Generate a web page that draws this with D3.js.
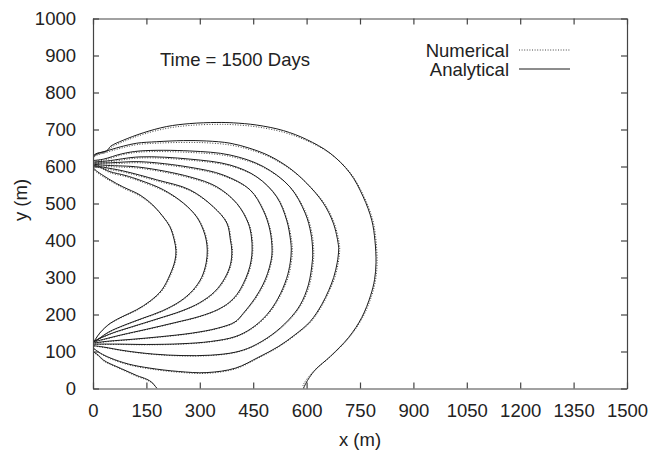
<!doctype html>

<html lang='en'>

<head>
  <meta charset='utf-8'>
  <title>Time = 1500 Days</title>

  <style>
    html, body {
      margin: 0;
      padding: 0;
      background: #fff;
    }

    text {
      font-family: 'Liberation Sans', Arial, Helvetica, sans-serif;
      fill: #222;
    }

    .frame path, .frame line {
      stroke: #444;
      stroke-width: 1.2;
    }

    path.analytical {
      fill: none;
      stroke: #1a1a1a;
      stroke-width: 1;
    }

    path.numerical {
      fill: none;
      stroke: #444;
      stroke-width: 1;
      stroke-dasharray: 1 1.6;
    }
  </style>
</head>

<body>
  <script src='https://d3js.org/d3.v7.min.js'></script>

  <script>
    const xTicks = [0, 150, 300, 450, 600, 750, 900, 1050, 1200, 1350, 1500]
    const yTicks = [0, 100, 200, 300, 400, 500, 600, 700, 800, 900, 1000]

    // analytical contours, upper source -> nose -> lower source (x m, y m)
    const analytical1 = [[0,598],[6,591],[48,564],[84,545],[132,523],[168,496],[197,464],[216,437],[228,402],[233,372],[230,345],[216,307],[193,266],[160,236],[123,213],[84,195],[48,176],[20,151],[6,132],[0,124]]
    const analytical2 = [[0,601],[20,598],[48,586],[90,576],[132,563],[198,537],[254,501],[291,464],[310,428],[318,401],[321,374],[318,340],[305,300],[280,265],[245,236],[195,210],[140,190],[90,172],[45,153],[15,134],[0,125]]
    const analytical3 = [[0,604],[30,598],[85,588],[179,564],[272,537],[338,491],[376,447],[386,401],[390,372],[386,335],[370,298],[342,262],[300,232],[250,210],[180,188],[110,167],[55,150],[20,136],[0,126]]
    const analytical4 = [[0,606],[40,603],[132,598],[272,572],[348,545],[404,500],[436,447],[445,410],[447,374],[444,345],[436,315],[422,283],[405,255],[382,232],[350,213],[300,195],[230,178],[150,160],[80,145],[30,133],[0,126]]
    const analytical5 = [[0,609],[50,610],[132,613],[272,598],[366,577],[441,537],[478,482],[497,428],[503,374],[500,345],[490,310],[477,280],[455,244],[422,203],[399,180],[350,163],[280,150],[190,140],[110,133],[45,128],[0,123]]
    const analytical6 = [[0,612],[40,615],[132,626],[272,620],[385,604],[460,572],[516,518],[544,455],[555,400],[557,374],[554,340],[544,298],[520,244],[488,199],[446,163],[399,140],[330,127],[250,121],[150,119],[70,120],[0,120]]
    const analytical7 = [[0,616],[30,620],[80,634],[132,642],[272,642],[385,631],[478,600],[553,545],[596,474],[612,420],[617,374],[616,343],[605,280],[582,226],[549,185],[502,145],[446,113],[399,98],[330,90],[250,89],[170,93],[90,102],[30,112],[0,116]]
    const analytical8 = [[0,622],[6,631],[48,645],[85,655],[123,663],[179,667],[254,670],[319,669],[385,663],[441,649],[497,628],[553,595],[600,555],[647,501],[675,447],[689,390],[690,374],[686,340],[676,300],[662,265],[642,226],[610,181],[567,145],[520,113],[464,84],[400,55],[320,43],[240,46],[160,55],[100,66],[50,82],[20,96],[0,110]]
    const analytical9 = [[0,630],[12,636],[38,642],[50,655],[85,671],[141,691],[207,708],[272,716],[348,719],[394,718],[460,712],[535,697],[600,673],[666,636],[722,582],[759,518],[783,455],[792,400],[795,340],[791,295],[780,252],[755,192],[718,138],[668,88],[626,52],[608,30],[598,14],[591,0]]
    const analytical9b = [[0,100],[15,90],[29,77],[48,67],[67,59],[95,47],[123,35],[151,25],[165,17],[174,7],[180,0]]

    // numerical contours
    const numerical1 = [[0,597],[6,588],[48,561],[84,542],[132,520],[169,493],[199,462],[218,436],[230,401],[235,372],[232,345],[218,306],[195,265],[161,235],[124,212],[85,194],[48,175],[20,150],[6,131],[0,123]]
    const numerical2 = [[0,600],[20,596],[48,583],[90,573],[132,560],[199,534],[256,499],[293,463],[312,428],[320,401],[323,374],[320,340],[307,299],[282,264],[246,235],[196,209],[140,189],[90,171],[45,152],[15,133],[0,124]]
    const numerical3 = [[0,603],[30,595],[85,585],[179,561],[273,534],[340,489],[378,446],[388,401],[392,372],[388,335],[372,297],[344,261],[301,231],[250,209],[180,187],[110,166],[55,149],[20,135],[0,125]]
    const numerical4 = [[0,605],[40,600],[132,595],[272,569],[349,542],[406,498],[438,446],[447,410],[449,374],[446,345],[438,314],[424,282],[407,254],[383,231],[350,212],[300,194],[230,177],[150,159],[80,144],[30,132],[0,125]]
    const numerical5 = [[0,608],[50,607],[132,610],[272,595],[367,574],[443,535],[480,481],[499,427],[505,374],[502,345],[492,309],[479,279],[457,243],[423,202],[400,179],[350,162],[280,149],[190,139],[110,132],[45,127],[0,122]]
    const numerical6 = [[0,611],[40,612],[132,623],[272,617],[386,601],[462,570],[518,517],[546,454],[558,400],[560,374],[557,340],[547,297],[522,243],[490,198],[447,162],[400,139],[330,126],[250,120],[150,118],[70,119],[0,119]]
    const numerical7 = [[0,615],[30,617],[80,631],[132,639],[272,638],[386,627],[480,597],[555,543],[599,473],[615,420],[620,374],[619,343],[608,279],[584,225],[551,184],[503,144],[447,112],[399,97],[330,89],[250,88],[170,92],[90,101],[30,111],[0,115]]
    const numerical8 = [[0,621],[6,628],[48,641],[85,651],[123,659],[179,663],[254,665],[319,664],[385,658],[442,645],[499,624],[555,592],[602,553],[650,500],[678,446],[692,390],[693,374],[689,340],[679,299],[664,264],[644,225],[612,180],[568,144],[521,112],[464,82],[400,53],[320,41],[240,44],[160,53],[100,64],[50,80],[20,95],[0,109]]
    const numerical9 = [[0,629],[12,633],[38,639],[50,651],[85,667],[141,687],[207,703],[272,711],[348,714],[394,713],[461,707],[537,692],[602,669],[669,633],[725,580],[762,517],[786,455],[795,400],[798,340],[794,295],[783,251],[757,191],[719,137],[668,87],[625,52],[605,31],[594,16],[590,8],[593,0]]
    const numerical9b = [[0,99],[15,88],[29,75],[48,65],[67,57],[95,45],[123,33],[151,23],[166,15],[175,6],[181,0]]

    const analytical = [analytical1, analytical2, analytical3, analytical4, analytical5, analytical6, analytical7, analytical8, analytical9, analytical9b]
    const numerical = [numerical1, numerical2, numerical3, numerical4, numerical5, numerical6, numerical7, numerical8, numerical9, numerical9b]

    const width = 649
    const height = 458
    const margin = { top: 18.5, right: 22, bottom: 69.5, left: 93 }
    const fontSize = '18.5px'

    const x = d3.scaleLinear()
      .domain([0, 1500])
      .range([margin.left, width - margin.right])

    const y = d3.scaleLinear()
      .domain([0, 1000])
      .range([height - margin.bottom, margin.top])

    const svg = d3.select('body').append('svg')
      .attr('width', width)
      .attr('height', height)

    svg.append('defs').append('clipPath')
      .attr('id', 'plot')
      .append('rect')
      .attr('x', margin.left)
      .attr('y', margin.top)
      .attr('width', width - margin.right - margin.left)
      .attr('height', height - margin.bottom - margin.top)

    const line = d3.line()
      .x(d => x(d[0]))
      .y(d => y(d[1]))
      .curve(d3.curveCatmullRom.alpha(0.5))

    const curves = svg.append('g').attr('clip-path', 'url(#plot)')

    curves.selectAll('path.numerical')
      .data(numerical)
      .join('path')
      .attr('class', 'numerical')
      .attr('d', line)

    curves.selectAll('path.analytical')
      .data(analytical)
      .join('path')
      .attr('class', 'analytical')
      .attr('d', line)

    // frame with inward ticks on all four sides
    svg.append('g')
      .attr('class', 'frame')
      .attr('transform', `translate(0,${y(0)})`)
      .call(d3.axisBottom(x).tickValues(xTicks).tickFormat(d3.format('d'))
        .tickSize(-6).tickSizeOuter(0).tickPadding(15))

    svg.append('g')
      .attr('class', 'frame')
      .attr('transform', `translate(${x(0)},0)`)
      .call(d3.axisLeft(y).tickValues(yTicks).tickFormat(d3.format('d'))
        .tickSize(-6).tickSizeOuter(0).tickPadding(17))

    svg.append('g')
      .attr('class', 'frame')
      .attr('transform', `translate(0,${y(1000)})`)
      .call(d3.axisTop(x).tickValues(xTicks).tickSize(-6).tickSizeOuter(0).tickFormat(''))

    svg.append('g')
      .attr('class', 'frame')
      .attr('transform', `translate(${x(1500)},0)`)
      .call(d3.axisRight(y).tickValues(yTicks).tickSize(-6).tickSizeOuter(0).tickFormat(''))

    svg.selectAll('.frame text')
      .style('font-size', fontSize)
      .style('font-family', "'Liberation Sans', Arial, sans-serif")
      .attr('fill', '#222')

    svg.append('text')
      .attr('x', (margin.left + width - margin.right) / 2)
      .attr('y', 446)
      .attr('text-anchor', 'middle')
      .style('font-size', fontSize)
      .text('x (m)')

    svg.append('text')
      .attr('transform', 'translate(27,200) rotate(-90)')
      .attr('text-anchor', 'middle')
      .style('font-size', fontSize)
      .text('y (m)')

    svg.append('text')
      .attr('x', 160)
      .attr('y', 66)
      .style('font-size', fontSize)
      .text('Time = 1500 Days')

    const legend = svg.append('g')

    const legendItems = [
      { label: 'Numerical', cls: 'numerical', y: 50 },
      { label: 'Analytical', cls: 'analytical', y: 69 }
    ]

    legendItems.forEach(item => {
      legend.append('text')
        .attr('x', 509)
        .attr('y', item.y + 6.5)
        .attr('text-anchor', 'end')
        .style('font-size', fontSize)
        .text(item.label)

      legend.append('path')
        .attr('class', item.cls)
        .attr('d', `M519,${item.y}H570`)
    })
  </script>
</body>

</html>
